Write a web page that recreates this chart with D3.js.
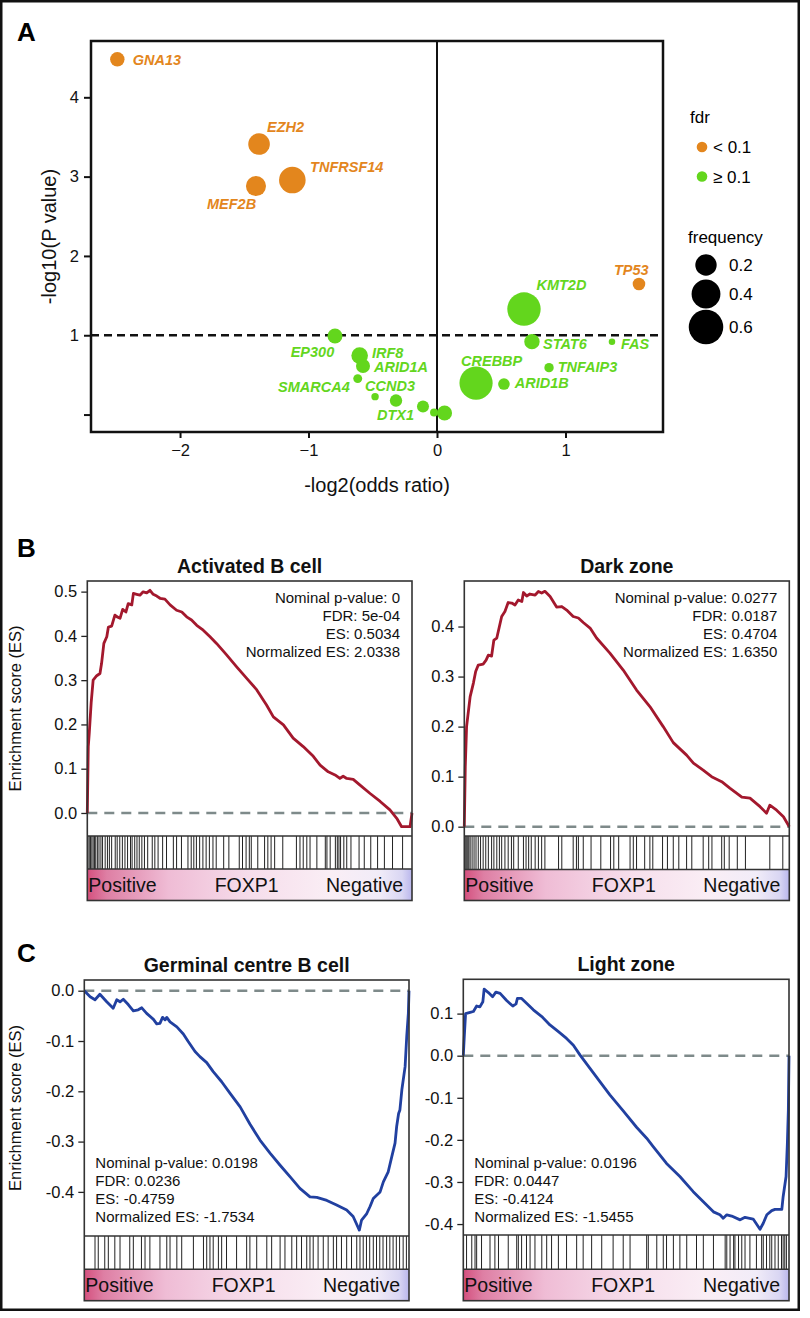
<!DOCTYPE html>
<html><head><meta charset="utf-8">
<script src="https://cdn.jsdelivr.net/npm/d3@7"></script>
<style>
body{margin:0;background:#fff}
svg{display:block}
text{font-family:"Liberation Sans",Arial,Helvetica,sans-serif}
</style>
</head><body>
<svg id="fig" width="810" height="1318"></svg>
<script>
// ---------------- Panel A data ----------------
const genes      = ["GNA13","EZH2","MEF2B","TNFRSF14","TP53","KMT2D","EP300","STAT6","FAS","IRF8","ARID1A","TNFAIP3","SMARCA4","CREBBP","ARID1B","CCND3","DTX1","","",""];
const negLog2OR  = [-2.488,-1.385,-1.409,-1.126,1.572,0.677,-0.794,0.739,1.362,-0.602,-0.576,0.872,-0.617,0.304,0.521,-0.482,-0.319,-0.109,-0.023,0.059];
const negLog10P  = [4.479,3.411,2.881,2.957,1.646,1.330,0.990,0.919,0.919,0.743,0.612,0.591,0.453,0.397,0.385,0.226,0.177,0.101,0.025,0.019];
const frequency  = [0.075,0.205,0.171,0.333,0.052,0.557,0.083,0.089,0.006,0.108,0.070,0.022,0.019,0.550,0.042,0.010,0.050,0.046,0.013,0.083];
const fdrLow     = [1,1,1,1,1,0,0,0,0,0,0,0,0,0,0,0,0,0,0,0];
const labelX     = [-2.368,-1.323,-1.790,-0.988,1.377,0.774,-1.139,0.825,1.432,-0.506,-0.490,0.939,-1.237,0.187,0.605,-0.560,-0.467,null,null,null];
const labelY     = [4.479,3.625,2.654,3.121,1.822,1.633,0.788,0.889,0.889,0.776,0.604,0.604,0.352,0.680,0.397,0.364,-0.006,null,null,null];
const xTicksA    = [-2,-1,0,1];
const yTicksA    = [0,1,2,3,4];
const yTickLabelsA = ["","1","2","3","4"];
const fdrLegend  = ["< 0.1","\u2265 0.1"];
const freqLegend = [0.2,0.4,0.6];

// ---------------- GSEA data ----------------
const abcRank = [0,0.003,0.006,0.012,0.018,0.029,0.039,0.044,0.051,0.06,0.065,0.075,0.085,0.092,0.101,0.109,0.119,0.126,0.137,0.142,0.152,0.162,0.172,0.183,0.193,0.203,0.214,0.224,0.239,0.255,0.275,0.291,0.306,0.321,0.337,0.357,0.378,0.398,0.429,0.46,0.491,0.522,0.552,0.573,0.604,0.634,0.665,0.696,0.717,0.742,0.763,0.778,0.788,0.799,0.819,0.84,0.871,0.902,0.932,0.953,0.968,0.994,1.0];
const abcES   = [0,0.15,0.18,0.25,0.30,0.31,0.315,0.338,0.383,0.398,0.42,0.422,0.447,0.443,0.44,0.46,0.454,0.473,0.47,0.496,0.494,0.492,0.4995,0.497,0.503,0.494,0.49,0.485,0.483,0.47,0.458,0.454,0.443,0.436,0.424,0.413,0.398,0.383,0.357,0.33,0.304,0.278,0.244,0.217,0.199,0.169,0.15,0.128,0.108,0.093,0.086,0.078,0.083,0.078,0.076,0.063,0.044,0.026,0.007,-0.012,-0.031,-0.031,0];
const abcHits = [0.002,0.006,0.010,0.014,0.018,0.022,0.026,0.031,0.036,0.042,0.047,0.055,0.062,0.068,0.075,0.086,0.092,0.1,0.108,0.116,0.124,0.133,0.138,0.146,0.153,0.16,0.168,0.176,0.186,0.2,0.208,0.218,0.232,0.244,0.265,0.275,0.29,0.31,0.32,0.328,0.336,0.346,0.356,0.366,0.376,0.387,0.397,0.42,0.436,0.468,0.478,0.489,0.499,0.505,0.525,0.546,0.556,0.566,0.577,0.602,0.644,0.655,0.665,0.676,0.686,0.707,0.733,0.738,0.748,0.764,0.77,0.775,0.78,0.79,0.799,0.812,0.837,0.853,0.873,0.894,0.915,0.94,0.971];

const dzRank = [0,0.003,0.007,0.018,0.028,0.035,0.043,0.058,0.067,0.074,0.084,0.091,0.1,0.108,0.115,0.125,0.135,0.146,0.156,0.166,0.177,0.182,0.192,0.202,0.218,0.228,0.238,0.248,0.264,0.284,0.3,0.315,0.335,0.351,0.366,0.387,0.407,0.448,0.489,0.53,0.571,0.612,0.643,0.684,0.705,0.735,0.761,0.792,0.817,0.854,0.879,0.91,0.93,0.94,0.961,0.982,1.0];
const dzES   = [0,0.12,0.2,0.26,0.287,0.31,0.323,0.325,0.333,0.343,0.341,0.373,0.377,0.4,0.42,0.43,0.448,0.447,0.443,0.453,0.45,0.468,0.461,0.465,0.463,0.47,0.467,0.4704,0.46,0.439,0.44,0.433,0.42,0.417,0.408,0.397,0.377,0.347,0.313,0.273,0.24,0.2,0.168,0.143,0.127,0.113,0.1,0.09,0.077,0.059,0.057,0.04,0.027,0.043,0.033,0.02,0];
const dzHits = [0.002,0.005,0.008,0.011,0.014,0.018,0.024,0.03,0.036,0.043,0.05,0.058,0.066,0.074,0.084,0.091,0.1,0.108,0.115,0.125,0.135,0.145,0.152,0.166,0.182,0.19,0.198,0.206,0.218,0.228,0.238,0.248,0.29,0.3,0.335,0.345,0.351,0.366,0.39,0.42,0.45,0.46,0.475,0.51,0.52,0.53,0.555,0.571,0.58,0.61,0.625,0.643,0.66,0.684,0.7,0.735,0.752,0.762,0.792,0.8,0.815,0.84,0.865,0.94,0.98];

const gcbRank = [0,0.018,0.033,0.048,0.069,0.089,0.1,0.11,0.12,0.136,0.151,0.166,0.177,0.192,0.213,0.223,0.233,0.241,0.249,0.254,0.264,0.285,0.305,0.32,0.341,0.356,0.377,0.397,0.423,0.449,0.48,0.51,0.541,0.572,0.603,0.634,0.664,0.695,0.716,0.747,0.777,0.808,0.828,0.847,0.854,0.87,0.88,0.89,0.911,0.921,0.936,0.947,0.957,0.962,0.968,0.972,0.978,0.988,0.993,0.998,1.0];
const gcbES   = [0,-0.012,-0.018,-0.007,-0.022,-0.035,-0.018,-0.022,-0.017,-0.028,-0.04,-0.038,-0.034,-0.045,-0.057,-0.066,-0.065,-0.053,-0.058,-0.053,-0.062,-0.072,-0.086,-0.101,-0.121,-0.131,-0.143,-0.161,-0.181,-0.204,-0.231,-0.265,-0.297,-0.323,-0.347,-0.37,-0.393,-0.41,-0.411,-0.417,-0.426,-0.436,-0.449,-0.4759,-0.456,-0.443,-0.429,-0.413,-0.4,-0.38,-0.36,-0.33,-0.303,-0.27,-0.244,-0.237,-0.197,-0.151,-0.091,-0.045,0];
const gcbHits = [0.033,0.043,0.063,0.074,0.094,0.11,0.14,0.151,0.176,0.187,0.202,0.233,0.254,0.264,0.285,0.3,0.336,0.367,0.377,0.387,0.397,0.413,0.423,0.438,0.469,0.5,0.51,0.531,0.562,0.577,0.603,0.618,0.639,0.654,0.669,0.685,0.695,0.705,0.72,0.736,0.751,0.767,0.777,0.792,0.808,0.823,0.839,0.849,0.859,0.869,0.879,0.89,0.9,0.91,0.92,0.931,0.941,0.951,0.961,0.971,0.982,0.992];

const lzRank = [0,0.003,0.007,0.021,0.031,0.041,0.051,0.06,0.064,0.077,0.09,0.1,0.113,0.133,0.152,0.162,0.166,0.179,0.195,0.215,0.241,0.266,0.292,0.317,0.338,0.358,0.389,0.42,0.45,0.491,0.532,0.563,0.583,0.624,0.665,0.706,0.737,0.768,0.788,0.798,0.809,0.824,0.85,0.865,0.89,0.911,0.921,0.932,0.947,0.957,0.978,0.982,0.991,0.995,0.998,1.0];
const lzES   = [0,0.045,0.1,0.103,0.105,0.118,0.116,0.128,0.158,0.15,0.14,0.151,0.148,0.131,0.118,0.123,0.136,0.136,0.124,0.109,0.093,0.073,0.057,0.041,0.025,0.002,-0.03,-0.062,-0.093,-0.131,-0.17,-0.196,-0.216,-0.256,-0.287,-0.323,-0.347,-0.371,-0.378,-0.386,-0.378,-0.381,-0.39,-0.384,-0.388,-0.4124,-0.398,-0.378,-0.368,-0.365,-0.365,-0.335,-0.287,-0.208,-0.129,0];
const lzHits = [0.01,0.026,0.036,0.041,0.056,0.082,0.097,0.108,0.138,0.164,0.169,0.179,0.194,0.205,0.22,0.241,0.256,0.271,0.292,0.317,0.348,0.368,0.394,0.425,0.46,0.491,0.512,0.563,0.568,0.594,0.614,0.624,0.645,0.665,0.686,0.716,0.737,0.768,0.804,0.809,0.819,0.83,0.834,0.845,0.855,0.865,0.88,0.9,0.916,0.921,0.931,0.941,0.947,0.957,0.967,0.977,0.982,0.987,0.992];

const statsABC = ["Nominal p-value: 0","FDR: 5e-04","ES: 0.5034","Normalized ES: 2.0338"];
const statsDZ  = ["Nominal p-value: 0.0277","FDR: 0.0187","ES: 0.4704","Normalized ES: 1.6350"];
const statsGCB = ["Nominal p-value: 0.0198","FDR: 0.0236","ES: -0.4759","Normalized ES: -1.7534"];
const statsLZ  = ["Nominal p-value: 0.0196","FDR: 0.0447","ES: -0.4124","Normalized ES: -1.5455"];
const barLabels = ["Positive","FOXP1","Negative"];

// ---------------- drawing ----------------
const svg = d3.select("#fig");
const ORANGE = "#E3861D", GREEN = "#63D61D";

svg.append("rect").attr("x",1.25).attr("y",1.25).attr("width",797.5).attr("height",1308.5)
  .attr("fill","none").attr("stroke","#111").attr("stroke-width",2.5);

[["A",17,41],["B",17,557],["C",17,962]].forEach(([t,x,y])=>{
  svg.append("text").attr("x",x).attr("y",y).attr("font-size",26).attr("font-weight","bold").text(t);
});

// ===== Panel A =====
const A = {x0:91,x1:663,y0:41,y1:432};
const xA = d3.scaleLinear().domain([-2.693,1.759]).range([A.x0,A.x1]);
const yA = d3.scaleLinear().domain([-0.22,4.71]).range([A.y1,A.y0]);
const rA = d3.scaleSqrt().domain([0,1]).range([1.7,21.8]);
const gA = svg.append("g");

const xAx = gA.append("g").attr("transform",`translate(0,${A.y1})`)
  .call(d3.axisBottom(xA).tickValues(xTicksA).tickSize(6).tickPadding(6).tickFormat(d3.format("d")));
const yAx = gA.append("g").attr("transform",`translate(${A.x0},0)`)
  .call(d3.axisLeft(yA).tickValues(yTicksA).tickSize(7).tickPadding(5).tickFormat((d,i)=>yTickLabelsA[i]));
[xAx,yAx].forEach(ax=>{
  ax.select(".domain").remove();
  ax.selectAll("line").attr("stroke","#111").attr("stroke-width",2);
  ax.selectAll("text").attr("font-size",16.5).attr("fill","#111").style("font-family",'"Liberation Sans",Arial,sans-serif');
});

gA.append("line").attr("x1",xA(0)).attr("x2",xA(0)).attr("y1",A.y0).attr("y2",A.y1)
  .attr("stroke","#111").attr("stroke-width",2);
gA.append("line").attr("x1",A.x0).attr("x2",A.x1).attr("y1",yA(1)).attr("y2",yA(1))
  .attr("stroke","#111").attr("stroke-width",2.5).attr("stroke-dasharray","8,5");

const ptIdx = d3.range(genes.length);
gA.selectAll("circle.pt").data(ptIdx).join("circle").attr("class","pt")
  .attr("cx",i=>xA(negLog2OR[i])).attr("cy",i=>yA(negLog10P[i])).attr("r",i=>rA(frequency[i]))
  .attr("fill",i=>fdrLow[i]?ORANGE:GREEN);
gA.selectAll("text.lab").data(ptIdx.filter(i=>genes[i])).join("text").attr("class","lab")
  .attr("x",i=>xA(labelX[i])).attr("y",i=>yA(labelY[i])).attr("dy","0.36em")
  .attr("font-size",14.5).attr("font-weight","bold").attr("font-style","italic")
  .attr("fill",i=>fdrLow[i]?ORANGE:GREEN).text(i=>genes[i]);

gA.append("rect").attr("x",A.x0).attr("y",A.y0).attr("width",A.x1-A.x0).attr("height",A.y1-A.y0)
  .attr("fill","none").attr("stroke","#111").attr("stroke-width",2.5);

gA.append("text").attr("x",(A.x0+A.x1)/2).attr("y",492).attr("text-anchor","middle")
  .attr("font-size",20).attr("fill","#111").text("-log2(odds ratio)");
gA.append("text").attr("transform",`translate(56,${(A.y0+A.y1)/2}) rotate(-90)`).attr("text-anchor","middle")
  .attr("font-size",20).attr("fill","#111").text("-log10(P value)");

// legend
const gL = svg.append("g");
gL.append("text").attr("x",690).attr("y",123).attr("font-size",17).text("fdr");
fdrLegend.forEach((t,i)=>{
  const cy = 147 + i*29.5;
  gL.append("circle").attr("cx",702).attr("cy",cy).attr("r",5.3).attr("fill",i===0?ORANGE:GREEN);
  gL.append("text").attr("x",713).attr("y",cy).attr("dy","0.36em").attr("font-size",17).text(t);
});
gL.append("text").attr("x",688).attr("y",243).attr("font-size",17).text("frequency");
const legY = [265,294,327];
freqLegend.forEach((f,i)=>{
  gL.append("circle").attr("cx",706).attr("cy",legY[i]).attr("r",rA(f)).attr("fill","#000");
  gL.append("text").attr("x",729).attr("y",legY[i]).attr("dy","0.36em").attr("font-size",17).text(f.toFixed(1));
});

// ===== GSEA panels =====
const defs = svg.append("defs");
const grad = defs.append("linearGradient").attr("id","rankGrad").attr("x1","0").attr("x2","1").attr("y1","0").attr("y2","0");
[[0,"#D4507E"],[0.06,"#DE7FA4"],[0.25,"#EFBCD5"],[0.5,"#F6DDEB"],[0.75,"#FAEEF5"],[0.9,"#F1ECF8"],[0.97,"#D9D6F3"],[1,"#B9B6EC"]]
  .forEach(([o,c])=>grad.append("stop").attr("offset",o).attr("stop-color",c));

function gsea(cfg){
  const g = svg.append("g");
  const x = d3.scaleLinear().domain([0,1]).range([cfg.x0,cfg.x1]);
  const y = d3.scaleLinear().domain(cfg.dom).range([cfg.yb,cfg.yt]);
  g.append("text").attr("x",(cfg.x0+cfg.x1)/2).attr("y",cfg.yt-8).attr("text-anchor","middle")
    .attr("font-size",19.5).attr("font-weight","bold").attr("fill","#111").text(cfg.title);
  const ax = g.append("g").attr("transform",`translate(${cfg.x0},0)`)
    .call(d3.axisLeft(y).tickValues(cfg.ticks).tickSize(6).tickPadding(4).tickFormat(d3.format(".1f")));
  ax.select(".domain").remove();
  ax.selectAll("line").attr("stroke","#222").attr("stroke-width",1.3);
  ax.selectAll("text").attr("font-size",16.5).attr("fill","#111").style("font-family",'"Liberation Sans",Arial,sans-serif')
    .text(d=>d3.format(".1f")(d).replace("\u2212","-"));
  if(cfg.ylab){
    g.append("text").attr("transform",`translate(21,${(cfg.yt+cfg.yb)/2}) rotate(-90)`).attr("text-anchor","middle")
      .attr("font-size",16.5).attr("fill","#111").text("Enrichment score (ES)");
  }
  g.append("line").attr("x1",cfg.x0).attr("x2",cfg.x1).attr("y1",y(0)).attr("y2",y(0))
    .attr("stroke","#7E8A8A").attr("stroke-width",2.5).attr("stroke-dasharray","10,7");
  const pts = cfg.rank.map((r,i)=>[r,cfg.es[i]]);
  g.append("path").datum(pts).attr("fill","none").attr("stroke",cfg.color).attr("stroke-width",2.8)
    .attr("stroke-linejoin","round")
    .attr("d",d3.line().x(d=>x(d[0])).y(d=>y(d[1])));
  cfg.stats.forEach((t,i)=>{
    g.append("text").attr("x",cfg.alignRight?cfg.x1-12:cfg.x0+11).attr("y",cfg.statY+i*18).attr("dy","0.36em")
      .attr("text-anchor",cfg.alignRight?"end":"start").attr("font-size",15).attr("fill","#111").text(t);
  });
  g.selectAll("line.hit").data(cfg.hits).join("line").attr("class","hit")
    .attr("x1",d=>x(d)).attr("x2",d=>x(d)).attr("y1",cfg.yb).attr("y2",cfg.bb)
    .attr("stroke","#222").attr("stroke-width",1);
  g.append("rect").attr("x",cfg.x0).attr("y",cfg.bb).attr("width",cfg.x1-cfg.x0).attr("height",cfg.cb-cfg.bb)
    .attr("fill","url(#rankGrad)");
  const tY = cfg.cb-8.5;
  g.append("text").attr("x",cfg.x0+1).attr("y",tY).attr("font-size",19.5).attr("fill","#111").text(barLabels[0]);
  g.append("text").attr("x",(cfg.x0+cfg.x1)/2-3).attr("y",tY).attr("text-anchor","middle").attr("font-size",19.5).attr("fill","#111").text(barLabels[1]);
  g.append("text").attr("x",cfg.x1-9).attr("y",tY).attr("text-anchor","end").attr("font-size",19.5).attr("fill","#111").text(barLabels[2]);
  g.append("rect").attr("x",cfg.x0).attr("y",cfg.yt).attr("width",cfg.x1-cfg.x0).attr("height",cfg.cb-cfg.yt)
    .attr("fill","none").attr("stroke","#333").attr("stroke-width",1.6);
  [cfg.yb,cfg.bb].forEach(yy=>g.append("line").attr("x1",cfg.x0).attr("x2",cfg.x1).attr("y1",yy).attr("y2",yy)
    .attr("stroke","#333").attr("stroke-width",1.6));
}

const RED = "#A3182D", BLUE = "#2140A0";
gsea({title:"Activated B cell",x0:87.3,x1:412,yt:581,yb:836,bb:869,cb:900.5,dom:[-0.052,0.524],
  ticks:[0,0.1,0.2,0.3,0.4,0.5],ylab:true,rank:abcRank,es:abcES,hits:abcHits,color:RED,stats:statsABC,alignRight:true,statY:597.7});
gsea({title:"Dark zone",x0:464.3,x1:789.3,yt:581,yb:836,bb:869.5,cb:900.5,dom:[-0.0186,0.491],
  ticks:[0,0.1,0.2,0.3,0.4],ylab:false,rank:dzRank,es:dzES,hits:dzHits,color:RED,stats:statsDZ,alignRight:true,statY:597.7});
gsea({title:"Germinal centre B cell",x0:84.3,x1:409,yt:980,yb:1236,bb:1269.3,cb:1300.7,dom:[-0.4877,0.0213],
  ticks:[0,-0.1,-0.2,-0.3,-0.4],ylab:true,rank:gcbRank,es:gcbES,hits:gcbHits,color:BLUE,stats:statsGCB,alignRight:false,statY:1162.5});
gsea({title:"Light zone",x0:463.3,x1:789,yt:979.3,yb:1235,bb:1269.3,cb:1300.7,dom:[-0.426,0.1815],
  ticks:[0.1,0,-0.1,-0.2,-0.3,-0.4],ylab:false,rank:lzRank,es:lzES,hits:lzHits,color:BLUE,stats:statsLZ,alignRight:false,statY:1162.5});
</script>
</body></html>
